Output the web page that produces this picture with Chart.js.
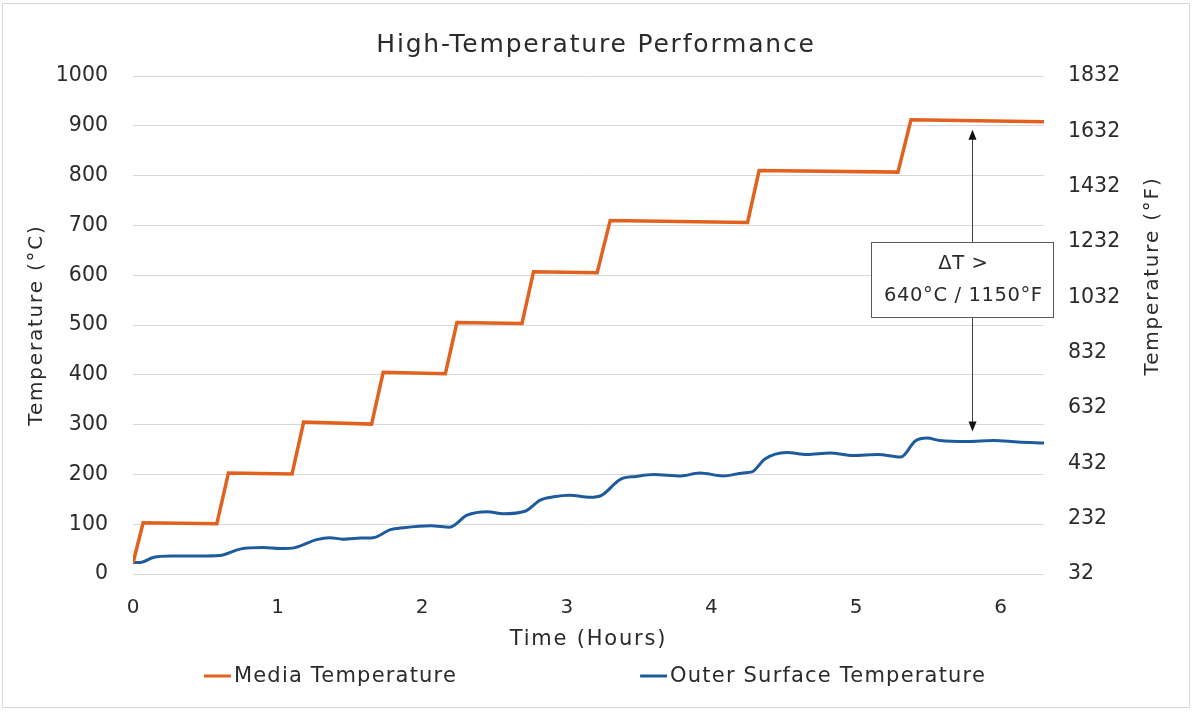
<!DOCTYPE html>
<html>
<head>
<meta charset="utf-8">
<script src="https://cdn.jsdelivr.net/npm/chart.js@4.4.0/dist/chart.umd.min.js"></script>
<style>
  html, body { margin: 0; padding: 0; background: #fff; }
  #wrap { width: 1192px; height: 713px; position: relative; }
</style>
</head>
<body>
<div id="wrap"><canvas id="tempChart"></canvas></div>
<script>
// media (furnace) temperature, step profile
const mediaHours = [0, 0.07, 0.58, 0.66, 1.10, 1.18, 1.65, 1.73, 2.16, 2.24, 2.69, 2.77, 3.21, 3.30, 4.25, 4.33, 5.29, 5.38, 6.30];
const mediaTemp  = [22, 103, 101, 203, 201, 305, 301, 405, 402, 505, 503, 607, 605, 710, 706, 810, 807, 912, 908];

// outer surface temperature
const surfaceHours = [0, 0.05, 0.14, 0.26, 0.45, 0.60, 0.74, 0.90, 1.02, 1.12, 1.27, 1.36, 1.45, 1.55, 1.66, 1.78, 1.87, 2.06, 2.19, 2.31, 2.45, 2.56, 2.71, 2.82, 2.91, 3.02, 3.16, 3.24, 3.37, 3.48, 3.60, 3.79, 3.92, 4.08, 4.22, 4.28, 4.37, 4.52, 4.66, 4.82, 4.98, 5.15, 5.31, 5.41, 5.49, 5.58, 5.77, 5.95, 6.12, 6.30];
const surfaceTemp  = [23, 23, 33, 36, 36, 37, 50, 53, 51, 53, 69, 73, 70, 72, 73, 89, 93, 97, 94, 118, 125, 121, 126, 149, 155, 158, 154, 158, 190, 196, 200, 197, 203, 197, 203, 205, 231, 244, 240, 243, 238, 240, 235, 267, 273, 268, 266, 268, 265, 263];

const hourTicks = [0, 1, 2, 3, 4, 5, 6];
const celsiusTicks = [0, 100, 200, 300, 400, 500, 600, 700, 800, 900, 1000];
const fahrenheitTicks = [32, 232, 432, 632, 832, 1032, 1232, 1432, 1632, 1832];

// delta-T callout
const deltaLabel = ['\u0394T >', '640\u00B0C / 1150\u00B0F'];
const deltaX = 5.8;
const deltaFrom = 892;
const deltaTo = 286;

const FONT = '"DejaVu Sans", sans-serif';
const TXT = '#2b2b2b';
const ORANGE = '#E2611E';
const BLUE = '#1E5B9D';

function toPoints(xs, ys) {
    return xs.map((x, i) => ({ x: x, y: ys[i] }));
}

const plainNumber = v => String(v);

const extras = {
    id: 'extras',
    beforeDraw(chart) {
        // wider tracking for titles (drawn before the datasets)
        chart.ctx.letterSpacing = '1.8px';
    },
    beforeDatasetsDraw(chart) {
        chart.ctx.letterSpacing = '0px';
    },
    afterDatasetsDraw(chart) {
        const ctx = chart.ctx;
        const sx = chart.scales.x, sy = chart.scales.y;
        const ax = Math.round(sx.getPixelForValue(deltaX)) + 0.5;
        const yTop = sy.getPixelForValue(deltaFrom);
        const yBot = sy.getPixelForValue(deltaTo);
        ctx.save();
        ctx.strokeStyle = '#404040';
        ctx.fillStyle = '#111';
        ctx.lineWidth = 1;
        ctx.beginPath();
        ctx.moveTo(ax, yTop + 9);
        ctx.lineTo(ax, yBot - 9);
        ctx.stroke();
        ctx.beginPath();
        ctx.moveTo(ax, yTop); ctx.lineTo(ax - 4, yTop + 10); ctx.lineTo(ax + 4, yTop + 10);
        ctx.closePath(); ctx.fill();
        ctx.beginPath();
        ctx.moveTo(ax, yBot); ctx.lineTo(ax - 4, yBot - 10); ctx.lineTo(ax + 4, yBot - 10);
        ctx.closePath(); ctx.fill();

        // callout box
        const cx = sx.getPixelForValue(5.735);
        const cy = sy.getPixelForValue(592);
        const bw = 182, bh = 75;
        const bx = Math.round(cx - bw / 2) + 0.5, by = Math.round(cy - bh / 2) + 0.5;
        ctx.fillStyle = '#fff';
        ctx.fillRect(bx, by, bw, bh);
        ctx.strokeStyle = '#595959';
        ctx.strokeRect(bx, by, bw, bh);
        ctx.fillStyle = TXT;
        ctx.font = '19.5px ' + FONT;
        ctx.letterSpacing = '0.6px';
        ctx.textAlign = 'center';
        ctx.textBaseline = 'middle';
        ctx.fillText(deltaLabel[0], cx + 1, cy - 15);
        ctx.fillText(deltaLabel[1], cx + 1, cy + 17);
        ctx.restore();
    },
    afterDraw(chart) {
        const ctx = chart.ctx;
        ctx.save();
        // right axis title, reading bottom to top
        ctx.fillStyle = TXT;
        ctx.font = '20px ' + FONT;
        ctx.letterSpacing = '1.8px';
        ctx.textAlign = 'center';
        ctx.textBaseline = 'middle';
        ctx.translate(1153, 276);
        ctx.rotate(-Math.PI / 2);
        ctx.fillText('Temperature (\u00B0F)', 0, 0);
        ctx.restore();

        // legend
        ctx.save();
        ctx.font = '21px ' + FONT;
        ctx.letterSpacing = '1.2px';
        ctx.textBaseline = 'middle';
        const ds = chart.data.datasets;
        const lineLen = 27, gap = 3, between = 183;
        const widths = ds.map(d => lineLen + gap + ctx.measureText(d.label).width);
        let x = 595 - (widths[0] + widths[1] + between) / 2;
        const ly = 676;
        ds.forEach((d, i) => {
            ctx.strokeStyle = d.borderColor;
            ctx.lineWidth = 3;
            ctx.beginPath();
            ctx.moveTo(x, ly); ctx.lineTo(x + lineLen, ly);
            ctx.stroke();
            ctx.fillStyle = TXT;
            ctx.fillText(d.label, x + lineLen + gap, ly + 1);
            x += widths[i] + between;
        });
        ctx.restore();

        // outer frame
        ctx.save();
        ctx.strokeStyle = '#d9d9d9';
        ctx.lineWidth = 1;
        ctx.strokeRect(2.5, 3.5, 1187, 704);
        ctx.restore();
    }
};

const chartItem = document.getElementById('tempChart');
const tempChart = new Chart(chartItem, {
    type: 'line',
    data: {
        datasets: [{
            label: 'Media Temperature',
            data: toPoints(mediaHours, mediaTemp),
            borderColor: ORANGE,
            backgroundColor: ORANGE,
            borderWidth: 3.5,
            tension: 0,
            fill: false
        }, {
            label: 'Outer Surface Temperature',
            data: toPoints(surfaceHours, surfaceTemp),
            borderColor: BLUE,
            backgroundColor: BLUE,
            borderWidth: 3,
            cubicInterpolationMode: 'monotone',
            fill: false
        }]
    },
    options: {
        responsive: true,
        maintainAspectRatio: false,
        animation: false,
        layout: {
            padding: { left: 0, right: 0, top: 0, bottom: 57 }
        },
        elements: {
            point: { radius: 0, hitRadius: 6, hoverRadius: 3 }
        },
        scales: {
            x: {
                type: 'linear',
                min: 0,
                max: 6.3,
                afterBuildTicks: s => { s.ticks = hourTicks.map(v => ({ value: v })); },
                afterFit: s => { s.height = 82; },
                grid: { display: false },
                border: { display: false },
                ticks: { color: TXT, font: { family: FONT, size: 20 }, padding: 14, z: 1, callback: plainNumber },
                title: {
                    display: true,
                    text: 'Time (Hours)',
                    color: TXT,
                    font: { family: FONT, size: 21 },
                    padding: { top: 0, bottom: 4 }
                }
            },
            y: {
                position: 'left',
                min: 0,
                max: 1000,
                afterBuildTicks: s => { s.ticks = celsiusTicks.map(v => ({ value: v })); },
                afterFit: s => { s.width = 133; },
                grid: { color: '#d9d9d9', lineWidth: 1, drawTicks: false },
                border: { display: false },
                ticks: { color: TXT, font: { family: FONT, size: 20.5 }, padding: 25, z: 1, callback: plainNumber },
                title: {
                    display: true,
                    text: 'Temperature (\u00B0C)',
                    color: TXT,
                    font: { family: FONT, size: 20 },
                    padding: { top: 25, bottom: 0 }
                }
            },
            yF: {
                position: 'right',
                min: 32,
                max: 1832,
                afterBuildTicks: s => { s.ticks = fahrenheitTicks.map(v => ({ value: v })); },
                afterFit: s => { s.width = 148; },
                grid: { display: false, drawTicks: false },
                border: { display: false },
                ticks: { color: TXT, font: { family: FONT, size: 20.5 }, padding: 24, z: 1, callback: plainNumber }
            }
        },
        plugins: {
            legend: { display: false },
            tooltip: { enabled: false },
            title: {
                display: true,
                text: 'High-Temperature Performance',
                color: TXT,
                font: { family: FONT, size: 25, weight: 'normal' },
                padding: { top: 30, bottom: 16 }
            }
        }
    },
    plugins: [extras]
});
</script>
</body>
</html>
